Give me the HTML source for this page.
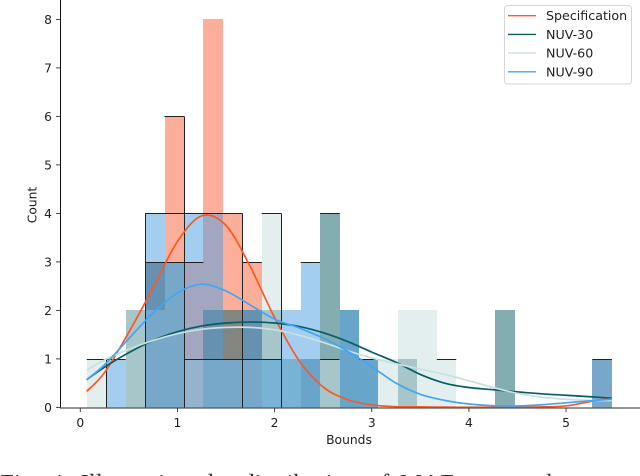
<!DOCTYPE html>
<html>
<head>
<meta charset="utf-8">
<style>
html,body{margin:0;padding:0;background:#fff;width:640px;height:476px;overflow:hidden}
svg{display:block;font-family:"DejaVu Sans",sans-serif}
</style>
</head>
<body>
<svg id="chart" width="640" height="476" viewBox="0 0 640 476" xmlns="http://www.w3.org/2000/svg">
<g id="bars"></g>
<g id="outlines"></g>
<g id="curves"></g>
<g id="axes"></g>
<text x="349" y="444" font-size="12.3" text-anchor="middle" fill="#222">Bounds</text>
<text transform="translate(36.5,205) rotate(-90)" font-size="12.3" text-anchor="middle" fill="#222">Count</text>
<g id="legend">
<rect x="504.5" y="5.5" width="127" height="78.5" rx="3" fill="#fff" fill-opacity="0.8" stroke="#d6d6d6" stroke-width="1"></rect>
</g>
<text x="0" y="491.5" font-size="25" word-spacing="4.5" fill="#333" style="font-family:'Liberation Serif',serif">Fig. 4: Illustrating the distribution of MAE across the</text>
</svg>
<script>
const seriesNames = ['Specification', 'NUV-30', 'NUV-60', 'NUV-90'];
const binStart = 0.066;
const binWidth = 0.2002;
const countsSpec = [0,0,0,3,6,3,8,4,3,0,0,0,0,0,0,0,0,0,0,0,0,0,0,0,0,0,1];
const countsNuv30 = [0,0,2,3,3,0,2,2,2,2,1,1,4,2,1,0,1,0,0,0,0,2,0,0,0,0,1];
const countsNuv60 = [1,0,2,2,3,1,1,1,1,4,1,0,1,0,0,1,2,2,1,0,0,0,0,0,0,0,1];
const countsNuv90 = [0,1,0,4,3,4,4,1,2,1,2,3,0,2,1,0,0,0,0,0,0,0,0,0,0,0,1];
const kdeX = [0.065,0.25,0.5,0.75,1,1.25,1.5,1.75,2,2.25,2.5,2.75,3,3.25,3.5,3.75,4,4.25,4.5,4.75,5,5.25,5.47];
const kdeSpec = [0.33,0.72,1.55,2.47,3.42,3.95,3.75,2.9,1.85,0.97,0.42,0.16,0.05,0.015,0.01,0.005,0.003,0.003,0.005,0.01,0.03,0.12,0.2];
const kdeNuv30 = [0.57,0.83,1.13,1.38,1.56,1.68,1.74,1.76,1.74,1.67,1.54,1.36,1.14,0.93,0.68,0.5,0.41,0.365,0.32,0.28,0.25,0.22,0.19];
const kdeNuv60 = [0.77,0.98,1.2,1.38,1.52,1.61,1.65,1.65,1.6,1.49,1.34,1.17,1.02,0.9,0.79,0.68,0.55,0.41,0.29,0.21,0.165,0.145,0.14];
const kdeNuv90 = [0.57,0.88,1.42,1.95,2.36,2.54,2.4,2.11,1.82,1.64,1.43,1.16,0.84,0.5,0.27,0.145,0.07,0.035,0.03,0.055,0.095,0.135,0.17];
const xTickValues = [0,1,2,3,4,5];
const yTickValues = [0,1,2,3,4,5,6,7,8];
const outlineTopBins = [0,1,3,4,5,6,7,4,3,4,5,8,5,6,7,8,9,9,11,12,12,14,18,26];
const outlineTopCounts = [1,1,4,4,4,4,4,6,3,3,3,3,1,1,1,1,1,4,3,4,1,1,1,1];
const outlineDropEdges = [1,3,5,8,10];
const outlineDropCounts = [1,4,6,4,4];

const NS = 'http://www.w3.org/2000/svg';
const colors = ['#ff5722', '#0a5c66', '#c8e0e0', '#42a5f5'];
const barColors = ['#f76038', '#0a5c66', '#c8e0e0', '#4a9de2'];
const allCounts = [countsSpec, countsNuv30, countsNuv60, countsNuv90];
const allKde = [kdeSpec, kdeNuv30, kdeNuv60, kdeNuv90];
const xScale = v => 80.3 + 97.15 * v;
const yScale = v => 407.4 - 48.5 * v;
const binLeft = k => xScale(binStart + binWidth * k);
function make(parent, tag, attrs) {
  const el = document.createElementNS(NS, tag);
  for (const key in attrs) el.setAttribute(key, attrs[key]);
  parent.appendChild(el);
  return el;
}
const barsG = document.getElementById('bars');
allCounts.forEach((counts, s) => {
  counts.forEach((c, k) => {
    if (c <= 0) return;
    const x0 = Math.round(binLeft(k)), x1 = Math.round(binLeft(k + 1));
    const top = Math.round(yScale(c));
    const r = make(barsG, 'rect', {x: x0, y: top, width: x1 - x0, height: 408 - top, fill: barColors[s], 'fill-opacity': 0.5, 'shape-rendering': 'crispEdges'});
    
    
  });
});
const outlinesG = document.getElementById('outlines');
outlineTopBins.forEach((k, i) => {
  const y = Math.round(yScale(outlineTopCounts[i])) + 0.5;
  const l = make(outlinesG, 'line', {x1: binLeft(k), x2: binLeft(k + 1), y1: y, y2: y, stroke: '#222', 'stroke-width': 1});
  
  
});
outlineDropEdges.forEach((k, i) => {
  const x = Math.round(binLeft(k)) + 0.5;
  const l = make(outlinesG, 'line', {x1: x, x2: x, y1: yScale(outlineDropCounts[i]), y2: 408, stroke: '#222', 'stroke-width': 1});
  
  
});
function smoothPath(xs, ys) {
  const p = xs.map((x, i) => [xScale(x), yScale(ys[i])]);
  let d = 'M' + p[0][0].toFixed(2) + ' ' + p[0][1].toFixed(2);
  for (let i = 0; i < p.length - 1; i++) {
    const a = p[Math.max(i - 1, 0)], b = p[i], c = p[i + 1], e = p[Math.min(i + 2, p.length - 1)];
    d += ' C' + (b[0] + (c[0] - a[0]) / 6).toFixed(2) + ' ' + (b[1] + (c[1] - a[1]) / 6).toFixed(2) + ' ' +
      (c[0] - (e[0] - b[0]) / 6).toFixed(2) + ' ' + (c[1] - (e[1] - b[1]) / 6).toFixed(2) + ' ' +
      c[0].toFixed(2) + ' ' + c[1].toFixed(2);
  }
  return d;
}
const curvesG = document.getElementById('curves');
allKde.forEach((ys, s) => {
  const path = make(curvesG, 'path', {d: smoothPath(kdeX, ys), fill: 'none', stroke: colors[s], 'stroke-width': 1.7});
  
  
});
const axesG = document.getElementById('axes');
const leftSpine = make(axesG, 'line', {x1: 60.5, x2: 60.5, y1: 0, y2: 408, stroke: '#111', 'stroke-width': 1});


const bottomSpine = make(axesG, 'line', {x1: 60, x2: 640, y1: 408, y2: 408, stroke: '#555', 'stroke-width': 1.3});


xTickValues.forEach(v => {
  const x = xScale(v);
  const t = make(axesG, 'line', {x1: x, x2: x, y1: 408, y2: 412, stroke: '#333', 'stroke-width': 0.9});
  
  
  const lab = make(axesG, 'text', {x: x, y: 427, 'font-size': 12.3, 'text-anchor': 'middle', fill: '#222'});
  lab.textContent = v;
  
  
});
yTickValues.forEach(v => {
  const y = yScale(v);
  const t = make(axesG, 'line', {x1: 56, x2: 60, y1: y, y2: y, stroke: '#333', 'stroke-width': 0.9});
  
  
  const lab = make(axesG, 'text', {x: 52, y: y + 4.5, 'font-size': 12.3, 'text-anchor': 'end', fill: '#222'});
  lab.textContent = v;
  
  
});
const legendG = document.getElementById('legend');
seriesNames.forEach((name, s) => {
  const y = 15.7 + 18.7 * s;
  const sw = make(legendG, 'line', {x1: 508, x2: 536, y1: y, y2: y, stroke: colors[s], 'stroke-width': 1.4});
  
  
  const tx = make(legendG, 'text', {x: 546, y: y + 4.5, 'font-size': 12.65, fill: '#222'});
  tx.textContent = name;
  
  
});
</script>
</body>
</html>
